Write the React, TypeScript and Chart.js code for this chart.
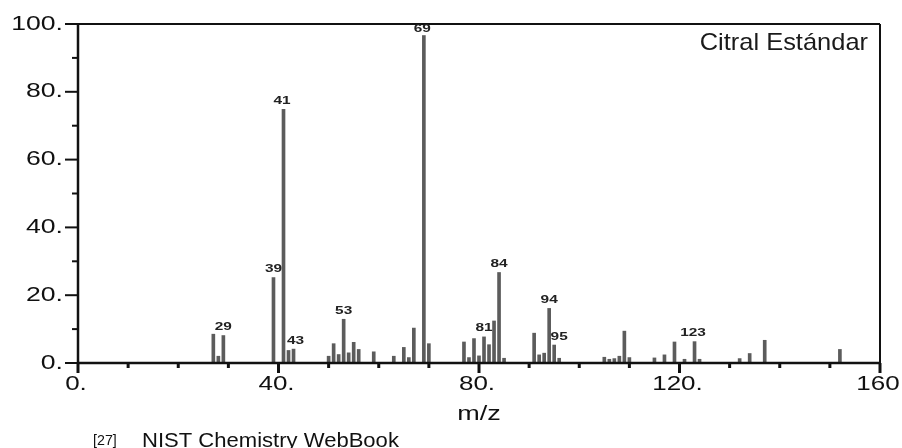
import React, { useEffect, useRef } from "react";
import { Chart, registerables } from "chart.js";

Chart.register(...registerables);

// m/z values of the peaks
const mzValues: number[] = [
  27, 28, 29, 39, 41, 42, 43, 50, 51, 52, 53, 54, 55, 56, 59, 63, 65, 66, 67, 69, 70,
  77, 78, 79, 80, 81, 82, 83, 84, 85, 91, 92, 93, 94, 95, 96,
  105, 106, 107, 108, 109, 110, 115, 117, 119, 121, 123, 124, 132, 134, 137, 152,
];
// relative intensities
const intensities: number[] = [
  8.5, 2, 8.1, 25.2, 74.8, 3.7, 4.1, 2, 5.7, 2.5, 12.9, 3, 6.1, 4, 3.3, 2, 4.6, 1.6, 10.3, 100, 5.7,
  6.2, 1.6, 7.2, 2.1, 7.7, 5.4, 12.4, 26.7, 1.4, 8.8, 2.4, 2.9, 16.1, 5.3, 1.4,
  1.7, 1.1, 1.3, 2.0, 9.4, 1.6, 1.5, 2.4, 6.2, 1.1, 6.3, 1.1, 1.3, 2.8, 6.7, 4.0,
];
// labelled peaks
const peakLabels: number[] = [29, 39, 41, 43, 53, 69, 81, 84, 94, 95, 123];

const xTickValues: number[] = [0, 40, 80, 120, 160];
const xTickLabels: string[] = ["0.", "40.", "80.", "120.", "160"];
const yTickValues: number[] = [0, 20, 40, 60, 80, 100];
const yTickLabels: string[] = ["0.", "20.", "40.", "60.", "80.", "100."];

const chartTitle = "Citral Estándar";
const xAxisTitle = "m/z";
const sourceRef = "[27]";
const sourceText = "NIST Chemistry WebBook";

const FONT = "'Liberation Sans', Arial, sans-serif";

function stretchedText(
  ctx: CanvasRenderingContext2D,
  text: string,
  x: number,
  y: number,
  sx: number,
  align: CanvasTextAlign,
  baseline: CanvasTextBaseline
) {
  ctx.save();
  ctx.translate(x, y);
  ctx.scale(sx, 1);
  ctx.textAlign = align;
  ctx.textBaseline = baseline;
  ctx.fillText(text, 0, 0);
  ctx.restore();
}

const framePlugin = {
  id: "spectrumFrame",
  afterDatasetsDraw(chart: any) {
    const ctx: CanvasRenderingContext2D = chart.ctx;
    const area = chart.chartArea;
    const xs = chart.scales.x;
    const ys = chart.scales.y;
    ctx.save();
    ctx.strokeStyle = "#111";
    ctx.fillStyle = "#111";
    ctx.lineCap = "butt";

    // frame
    ctx.lineWidth = 2;
    ctx.beginPath();
    ctx.moveTo(area.left, area.top);
    ctx.lineTo(area.right, area.top);
    ctx.moveTo(area.right, area.top);
    ctx.lineTo(area.right, area.bottom);
    ctx.stroke();
    ctx.lineWidth = 2.5;
    ctx.beginPath();
    ctx.moveTo(area.left, area.top - 1);
    ctx.lineTo(area.left, area.bottom);
    ctx.moveTo(area.left, area.bottom);
    ctx.lineTo(area.right + 1, area.bottom);
    ctx.stroke();

    // y ticks
    for (let v = 0; v <= 100; v += 10) {
      const py = ys.getPixelForValue(v);
      const len = v % 20 === 0 ? 13 : 6;
      ctx.lineWidth = 2;
      ctx.beginPath();
      ctx.moveTo(area.left - len, py);
      ctx.lineTo(area.left, py);
      ctx.stroke();
    }
    // x ticks
    for (let v = 0; v <= 160; v += 10) {
      const px = xs.getPixelForValue(v);
      const major = v % 40 === 0;
      ctx.lineWidth = 3;
      ctx.beginPath();
      ctx.moveTo(px, area.bottom);
      ctx.lineTo(px, area.bottom + (major ? 10 : 5));
      ctx.stroke();
    }

    // tick labels
    ctx.fillStyle = "#111";
    ctx.font = `20px ${FONT}`;
    yTickValues.forEach((v, i) => {
      stretchedText(ctx, yTickLabels[i], area.left - 15, ys.getPixelForValue(v), 1.33, "right", "middle");
    });
    xTickValues.forEach((v, i) => {
      stretchedText(ctx, xTickLabels[i], xs.getPixelForValue(v) - 2, area.bottom + 21, 1.3, "center", "middle");
    });

    // axis title
    ctx.font = `20px ${FONT}`;
    stretchedText(ctx, xAxisTitle, (area.left + area.right) / 2, area.bottom + 57, 1.35, "center", "alphabetic");

    // chart title in box
    ctx.fillStyle = "#1a1a1a";
    ctx.font = `24px ${FONT}`;
    stretchedText(ctx, chartTitle, area.right - 12, area.top + 26, 1.06, "right", "alphabetic");

    // source
    ctx.fillStyle = "#111";
    ctx.font = `15px ${FONT}`;
    stretchedText(ctx, sourceRef, 93, 445, 0.95, "left", "alphabetic");
    ctx.font = `21px ${FONT}`;
    stretchedText(ctx, sourceText, 142, 446.5, 1.05, "left", "alphabetic");

    // peak labels
    ctx.font = `bold 11px ${FONT}`;
    const sx = 1.4;
    peakLabels.forEach((m) => {
      const idx = mzValues.indexOf(m);
      if (idx < 0) return;
      const px = xs.getPixelForValue(m);
      let bottom = ys.getPixelForValue(intensities[idx]) - 3;
      const h = 9;
      const text = String(m);
      const w = ctx.measureText(text).width * sx;
      let dx = 0;
      if (m === 95) dx = 5;
      if (m === 43) dx = 2;
      if (m === 69 || m === 41 || m === 123) dx = -1.5;
      if (bottom - h < area.top + 1) {
        bottom = area.top + 1 + h;
        ctx.fillStyle = "#fff";
        ctx.fillRect(px + dx - w / 2 - 1, area.top + 1.2, w + 2, h + 1);
      }
      ctx.fillStyle = "#222";
      stretchedText(ctx, text, px + dx, bottom, sx, "center", "bottom");
    });
    ctx.restore();
  },
};

export default function App() {
  const canvasRef = useRef<HTMLCanvasElement | null>(null);

  useEffect(() => {
    const canvas = canvasRef.current;
    if (!canvas) return;
    const chart = new Chart(canvas, {
      type: "bar",
      data: {
        datasets: [
          {
            data: mzValues.map((x, i) => ({ x, y: intensities[i] })),
            backgroundColor: "#5c5c5c",
            borderWidth: 0,
            barThickness: 3,
          } as any,
        ],
      },
      options: {
        animation: false,
        responsive: false,
        devicePixelRatio: 1,
        layout: { padding: { left: 78, top: 24, right: 22, bottom: 85 } },
        plugins: {
          legend: { display: false },
          tooltip: { enabled: false },
          title: { display: false },
        },
        scales: {
          x: { type: "linear", min: 0, max: 160, offset: false, display: false },
          y: { type: "linear", min: 0, max: 100, display: false },
        },
      } as any,
      plugins: [framePlugin],
    });
    return () => chart.destroy();
  }, []);

  return (
    <div style={{ position: "fixed", left: 0, top: 0, width: 902, height: 448, background: "#fff" }}>
      <canvas ref={canvasRef} width={902} height={448} style={{ display: "block" }} />
    </div>
  );
}
